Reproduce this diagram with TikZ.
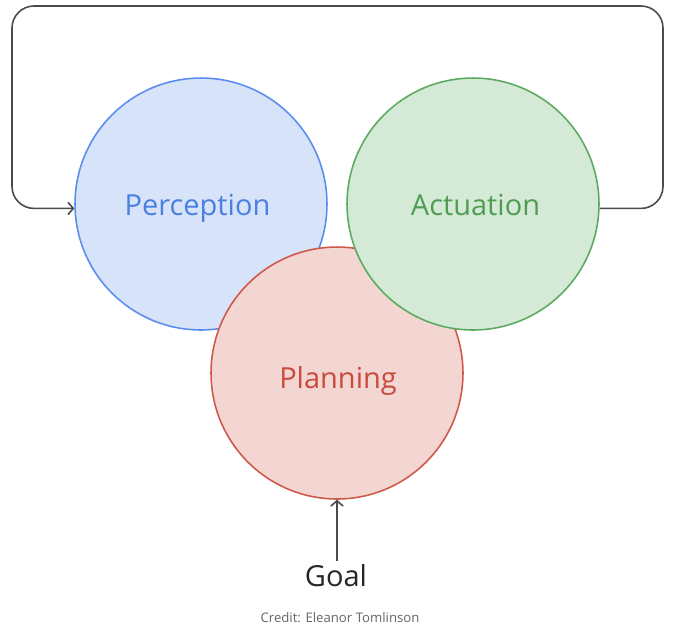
\documentclass[tikz,border=0pt]{standalone}
\usepackage{fontspec}
\setmainfont{Open Sans}
\usetikzlibrary{calc,arrows.meta}
\definecolor{percfill}{HTML}{D7E3F8}
\definecolor{percline}{HTML}{5B8DEF}
\definecolor{perctext}{HTML}{4A80E2}
\definecolor{actfill}{HTML}{D5EAD6}
\definecolor{actline}{HTML}{5BAA5F}
\definecolor{acttext}{HTML}{4F9C53}
\definecolor{planfill}{HTML}{F3D6D1}
\definecolor{planline}{HTML}{D0584B}
\definecolor{plantext}{HTML}{C94B3E}
\definecolor{loopline}{HTML}{4A4A4A}
\begin{document}
\begin{tikzpicture}[x=0.02cm,y=-0.02cm,
    blob/.style={circle,line width=0.9pt,minimum size=5.04cm,inner sep=0pt},
    word/.style={font=\fontsize{16.5}{20}\selectfont,text height=0.714em,text depth=0pt,inner sep=0pt},
    loop/.style={draw=loopline,line width=0.9pt,rounded corners=0.44cm}]
    \useasboundingbox (0,0) rectangle (680,627);
    \coordinate (TL) at ( 12, 6);
    \coordinate (TR) at (663, 6);
    \node[blob,fill=percfill,draw=percline] (perc) at (201,204) {};
    \node[blob,fill=planfill,draw=planline] (plan) at (337,373) {};
    \node[blob,fill=actfill,draw=actline] (act) at (473,204) {};
    \node[word,text=perctext] (percText) at ($(perc)+(-3.5,5.5)$) {Perception};
    \node[word,text=acttext] (actText) at ($(act)+(2.5,5.5)$) {Actuation};
    \node[word,text=plantext] (planText) at ($(plan)+(1,9)$) {Planning};
    \node[word,text=black!85,inner sep=7pt] (goal) at (336,580) {Goal};
    \node[font=\fontsize{7.5}{9}\selectfont,text=black!60] (credit) at (340,617.5) {Credit: Eleanor Tomlinson};
    \draw[loop,-{Straight Barb[length=3pt,width=7pt]}] (act.-2) -| (TR) -- (TL) |- (perc.182);
    \draw[draw=loopline,line width=0.9pt,-{Straight Barb[length=3pt,width=7pt]}] (goal.north -| plan.south) -- (plan.south);
  \end{tikzpicture}
\end{document}
